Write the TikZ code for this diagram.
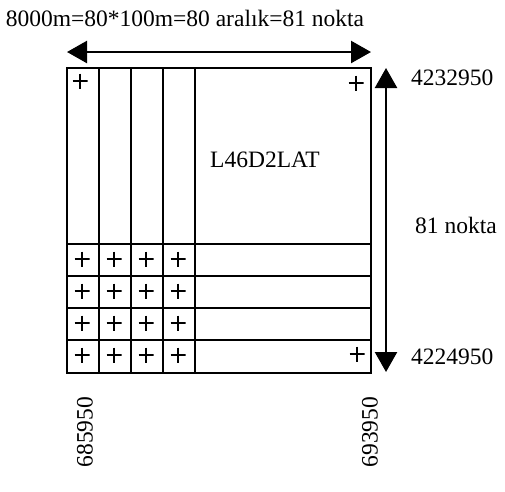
\documentclass[tikz,border=0pt]{standalone}
\usepackage{fontspec}
\setmainfont{Liberation Serif}
\usetikzlibrary{arrows.meta}
\begin{document}
\begin{tikzpicture}[x=1pt,y=-1pt,
  lbl/.style={font=\fontsize{23.5}{25}\selectfont, inner sep=0pt},
  pl/.style={minimum size=15pt, inner sep=0pt, path picture={
      \draw[line width=1.6pt] (path picture bounding box.north) -- (path picture bounding box.south)
        (path picture bounding box.west) -- (path picture bounding box.east);}},
  gridline/.style={line width=1.8pt},
  dim/.style={line width=2.4pt, {Triangle[length=20pt,width=22pt]}-{Triangle[length=20pt,width=22pt]}}]
\useasboundingbox (0,0) rectangle (505,491);
% outer square and grid
\coordinate (tl) at (67,68);
\coordinate (br) at (371,373);
\draw[gridline] (tl) rectangle (br);
\foreach \x in {99,131,163,195} \draw[gridline] (\x,68) -- (\x,373);
\foreach \y in {244,276,308,340} \draw[gridline] (67,\y) -- (371,\y);
% plus marks
\node[pl] (p0) at (80,81) {};
\node[pl] (p1) at (356,83) {};
\node[pl] (p2) at (357,354) {};
\foreach \i/\x in {1/82,2/114,3/146,4/178}
  \foreach \j/\y in {1/259,2/291,3/323,4/355}
    \node[pl] (g\i\j) at (\x,\y) {};
% label in square
\node[lbl] (name) at (265,160) {L46D2LAT};
% dimension arrows
\coordinate (ha) at (67,52);
\coordinate (hb) at (371,52);
\draw[dim] (ha) -- (hb);
\coordinate (va) at (386,68);
\coordinate (vb) at (386,372);
\draw[dim] (va) -- (vb);
% texts
\node[lbl] (top) at (185,18) {8000m=80*100m=80 aralık=81 nokta};
\node[lbl, anchor=west] (n1) at (411,78) {4232950};
\node[lbl, anchor=west] (n2) at (415,225) {81 nokta};
\node[lbl, anchor=west] (n3) at (411,357) {4224950};
\node[lbl, rotate=90] (e1) at (85,432) {685950};
\node[lbl, rotate=90] (e2) at (370,432) {693950};
\end{tikzpicture}
\end{document}
